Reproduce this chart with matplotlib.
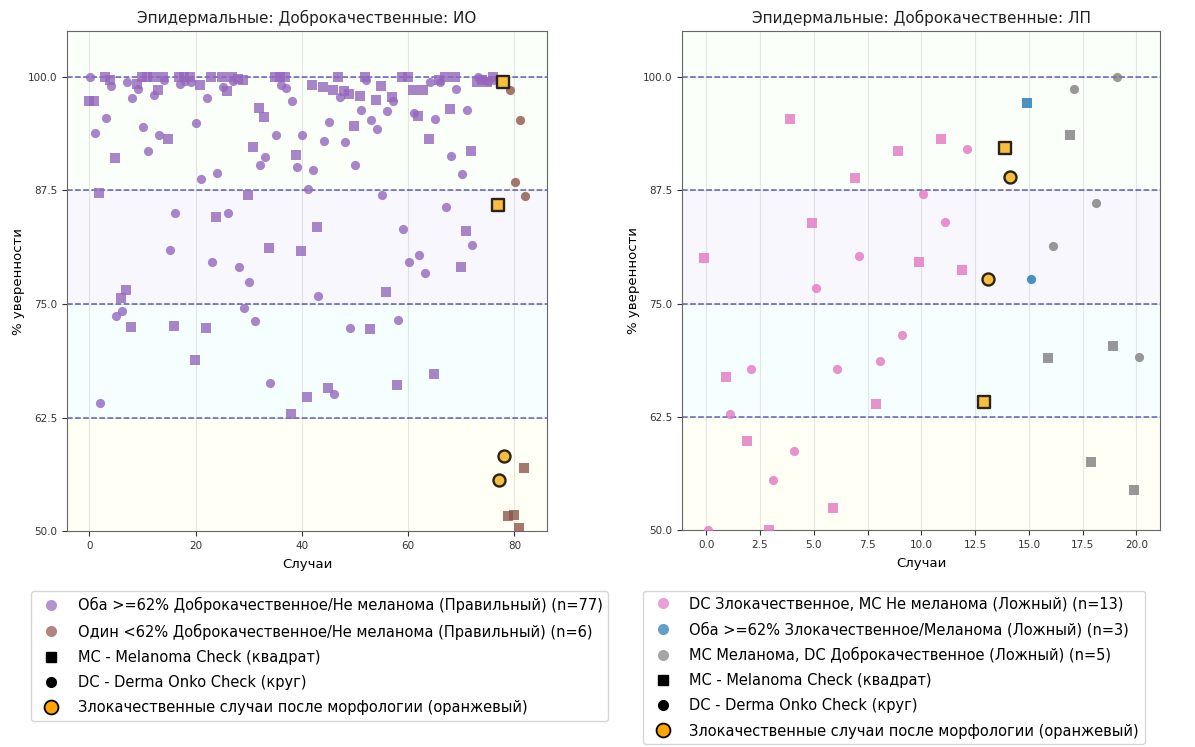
import numpy as np
import matplotlib.pyplot as plt
from matplotlib.lines import Line2D

# ---- ИО: confidence per case, MC drawn as squares, DC as circles ----
io_both_mc = [97.3, 97.3, 87.2, 100.0, 99.7, 91.1, 75.7, 76.5, 72.5, 99.2,
              100.0, 100.0, 100.0, 98.5, 100.0, 93.2, 72.6, 100.0, 100.0, 100.0,
              68.8, 99.1, 72.4, 100.0, 84.6, 100.0, 98.4, 100.0, 99.8, 99.7,
              87.0, 92.3, 96.6, 95.6, 81.2, 100.0, 100.0, 100.0, 62.9, 91.4,
              80.8, 64.8, 99.1, 83.5, 98.9, 65.8, 98.5, 100.0, 98.4, 98.1,
              94.6, 97.9, 100.0, 72.2, 97.4, 99.0, 76.3, 97.8, 66.1, 100.0,
              100.0, 98.6, 95.7, 98.6, 93.2, 67.3, 99.7, 100.0, 96.5, 100.0,
              79.1, 83.0, 91.8, 99.4, 99.6, 99.4, 100.0]
io_both_dc = [100.0, 93.8, 64.1, 95.5, 99.0, 73.7, 74.2, 99.4, 97.7, 98.7,
              94.5, 91.8, 98.0, 93.6, 99.7, 80.9, 85.0, 99.2, 99.5, 99.4,
              94.9, 88.8, 97.7, 79.6, 89.4, 98.9, 85.0, 99.5, 79.1, 74.6,
              77.4, 73.1, 90.3, 91.2, 66.3, 93.6, 99.1, 98.8, 97.3, 90.1,
              93.6, 87.6, 89.7, 75.9, 92.9, 95.0, 65.1, 97.8, 92.8, 72.4,
              90.3, 96.3, 99.6, 95.3, 94.3, 87.0, 96.2, 97.3, 73.2, 83.2,
              79.6, 96.0, 80.4, 78.4, 99.4, 95.4, 99.4, 85.7, 91.3, 98.7,
              89.3, 96.4, 81.5, 100.0, 99.8, 99.5, 99.7]
io_one_mc = [85.9, 99.4, 51.7, 51.8, 50.3, 56.9]
io_one_dc = [55.6, 58.3, 98.6, 88.4, 95.3, 86.9]
io_malignant = [77, 78]

# ---- ЛП ----
lp_dcmal_mc = [80.0, 66.9, 59.8, 50.0, 95.3, 83.9, 52.5, 88.8, 63.9, 91.8, 79.6, 93.1, 78.7]
lp_dcmal_dc = [50.0, 62.8, 67.8, 55.6, 58.8, 76.7, 67.8, 80.2, 68.7, 71.5, 87.1, 84.0, 92.0]
lp_both_mc = [64.1, 92.2, 97.1]
lp_both_dc = [77.7, 89.0, 77.7]
lp_mcmel_mc = [69.0, 93.6, 57.5, 70.3, 54.5]
lp_mcmel_dc = [81.3, 98.6, 86.1, 100.0, 69.1]
lp_malignant = [13, 14]

thresholds = [62.5, 75.0, 87.5, 100.0]
bands = [(50, 62.5, "lightyellow"), (62.5, 75, "lightcyan"),
         (75, 87.5, "lavender"), (87.5, 105, "honeydew")]

ALPHA = 0.8
MS = 44
OFF = 0.1


def draw_panel(ax, groups, malignant, title, legend_x):
    for lo, hi, c in bands:
        ax.axhspan(lo, hi, color=c, alpha=0.3, lw=0, zorder=0)
    for t in thresholds:
        ax.axhline(t, color="darkblue", ls="--", lw=1.1, alpha=0.6, zorder=1)

    all_mc, all_dc = [], []
    start = 0
    for mc, dc, color, _ in groups:
        x = np.arange(start, start + len(mc))
        ax.scatter(x - OFF, mc, marker="s", s=MS, color=color, alpha=ALPHA, lw=0, zorder=3)
        ax.scatter(x + OFF, dc, marker="o", s=MS, color=color, alpha=ALPHA, lw=0, zorder=3)
        all_mc += list(mc)
        all_dc += list(dc)
        start += len(mc)

    # cases confirmed malignant after morphology
    for i in malignant:
        ax.scatter(i - OFF, all_mc[i], marker="s", s=75, facecolor="#f9bd40",
                   edgecolor="#2a2418", lw=1.7, zorder=4)
        ax.scatter(i + OFF, all_dc[i], marker="o", s=75, facecolor="#f9bd40",
                   edgecolor="#2a2418", lw=1.7, zorder=4)

    ax.set_ylim(50, 105)
    ax.set_yticks([50, 62.5, 75, 87.5, 100])
    ax.set_yticklabels([f"{v:.1f}" for v in [50, 62.5, 75, 87.5, 100]])
    ax.tick_params(labelsize=7.5, colors="#333333")
    ax.grid(True, alpha=0.3)
    ax.set_axisbelow(True)
    for s in ax.spines.values():
        s.set_color("#666666")
    ax.set_title(title, fontsize=11, color="#222222")
    ax.set_xlabel("Случаи", fontsize=9.5, labelpad=5)
    ax.set_ylabel("% уверенности", fontsize=9.5, labelpad=2)

    handles = []
    for mc, dc, color, label in groups:
        handles.append(Line2D([], [], ls="", marker="o", ms=8, color=color, alpha=0.7,
                              markeredgewidth=0, label=f"{label} (n={len(mc)})"))
    handles += [
        Line2D([], [], ls="", marker="s", ms=7, color="black", label="MC - Melanoma Check (квадрат)"),
        Line2D([], [], ls="", marker="o", ms=7, color="black", label="DC - Derma Onko Check (круг)"),
        Line2D([], [], ls="", marker="o", ms=10, markerfacecolor="orange", markeredgecolor="black",
               markeredgewidth=1.3, label="Злокачественные случаи после морфологии (оранжевый)"),
    ]
    ax.legend(handles=handles, loc="upper left", bbox_to_anchor=(legend_x, -0.106),
              fontsize=10.5, labelspacing=0.69, frameon=True)


fig = plt.figure(figsize=(11.95, 7.47), dpi=100)
ax1 = fig.add_axes([0.056, 0.289, 0.402, 0.669])
ax2 = fig.add_axes([0.571, 0.290, 0.400, 0.668])

draw_panel(ax1, [
    (io_both_mc, io_both_dc, "tab:purple", "Оба >=62% Доброкачественное/Не меланома (Правильный)"),
    (io_one_mc, io_one_dc, "tab:brown", "Один <62% Доброкачественное/Не меланома (Правильный)"),
], io_malignant, "Эпидермальные: Доброкачественные: ИО", -0.09)

draw_panel(ax2, [
    (lp_dcmal_mc, lp_dcmal_dc, "tab:pink", "DC Злокачественное, MC Не меланома (Ложный)"),
    (lp_both_mc, lp_both_dc, "tab:blue", "Оба >=62% Злокачественное/Меланома (Ложный)"),
    (lp_mcmel_mc, lp_mcmel_dc, "tab:gray", "MC Меланома, DC Доброкачественное (Ложный)"),
], lp_malignant, "Эпидермальные: Доброкачественные: ЛП", -0.098)

fig.savefig("out.png", dpi=100)
